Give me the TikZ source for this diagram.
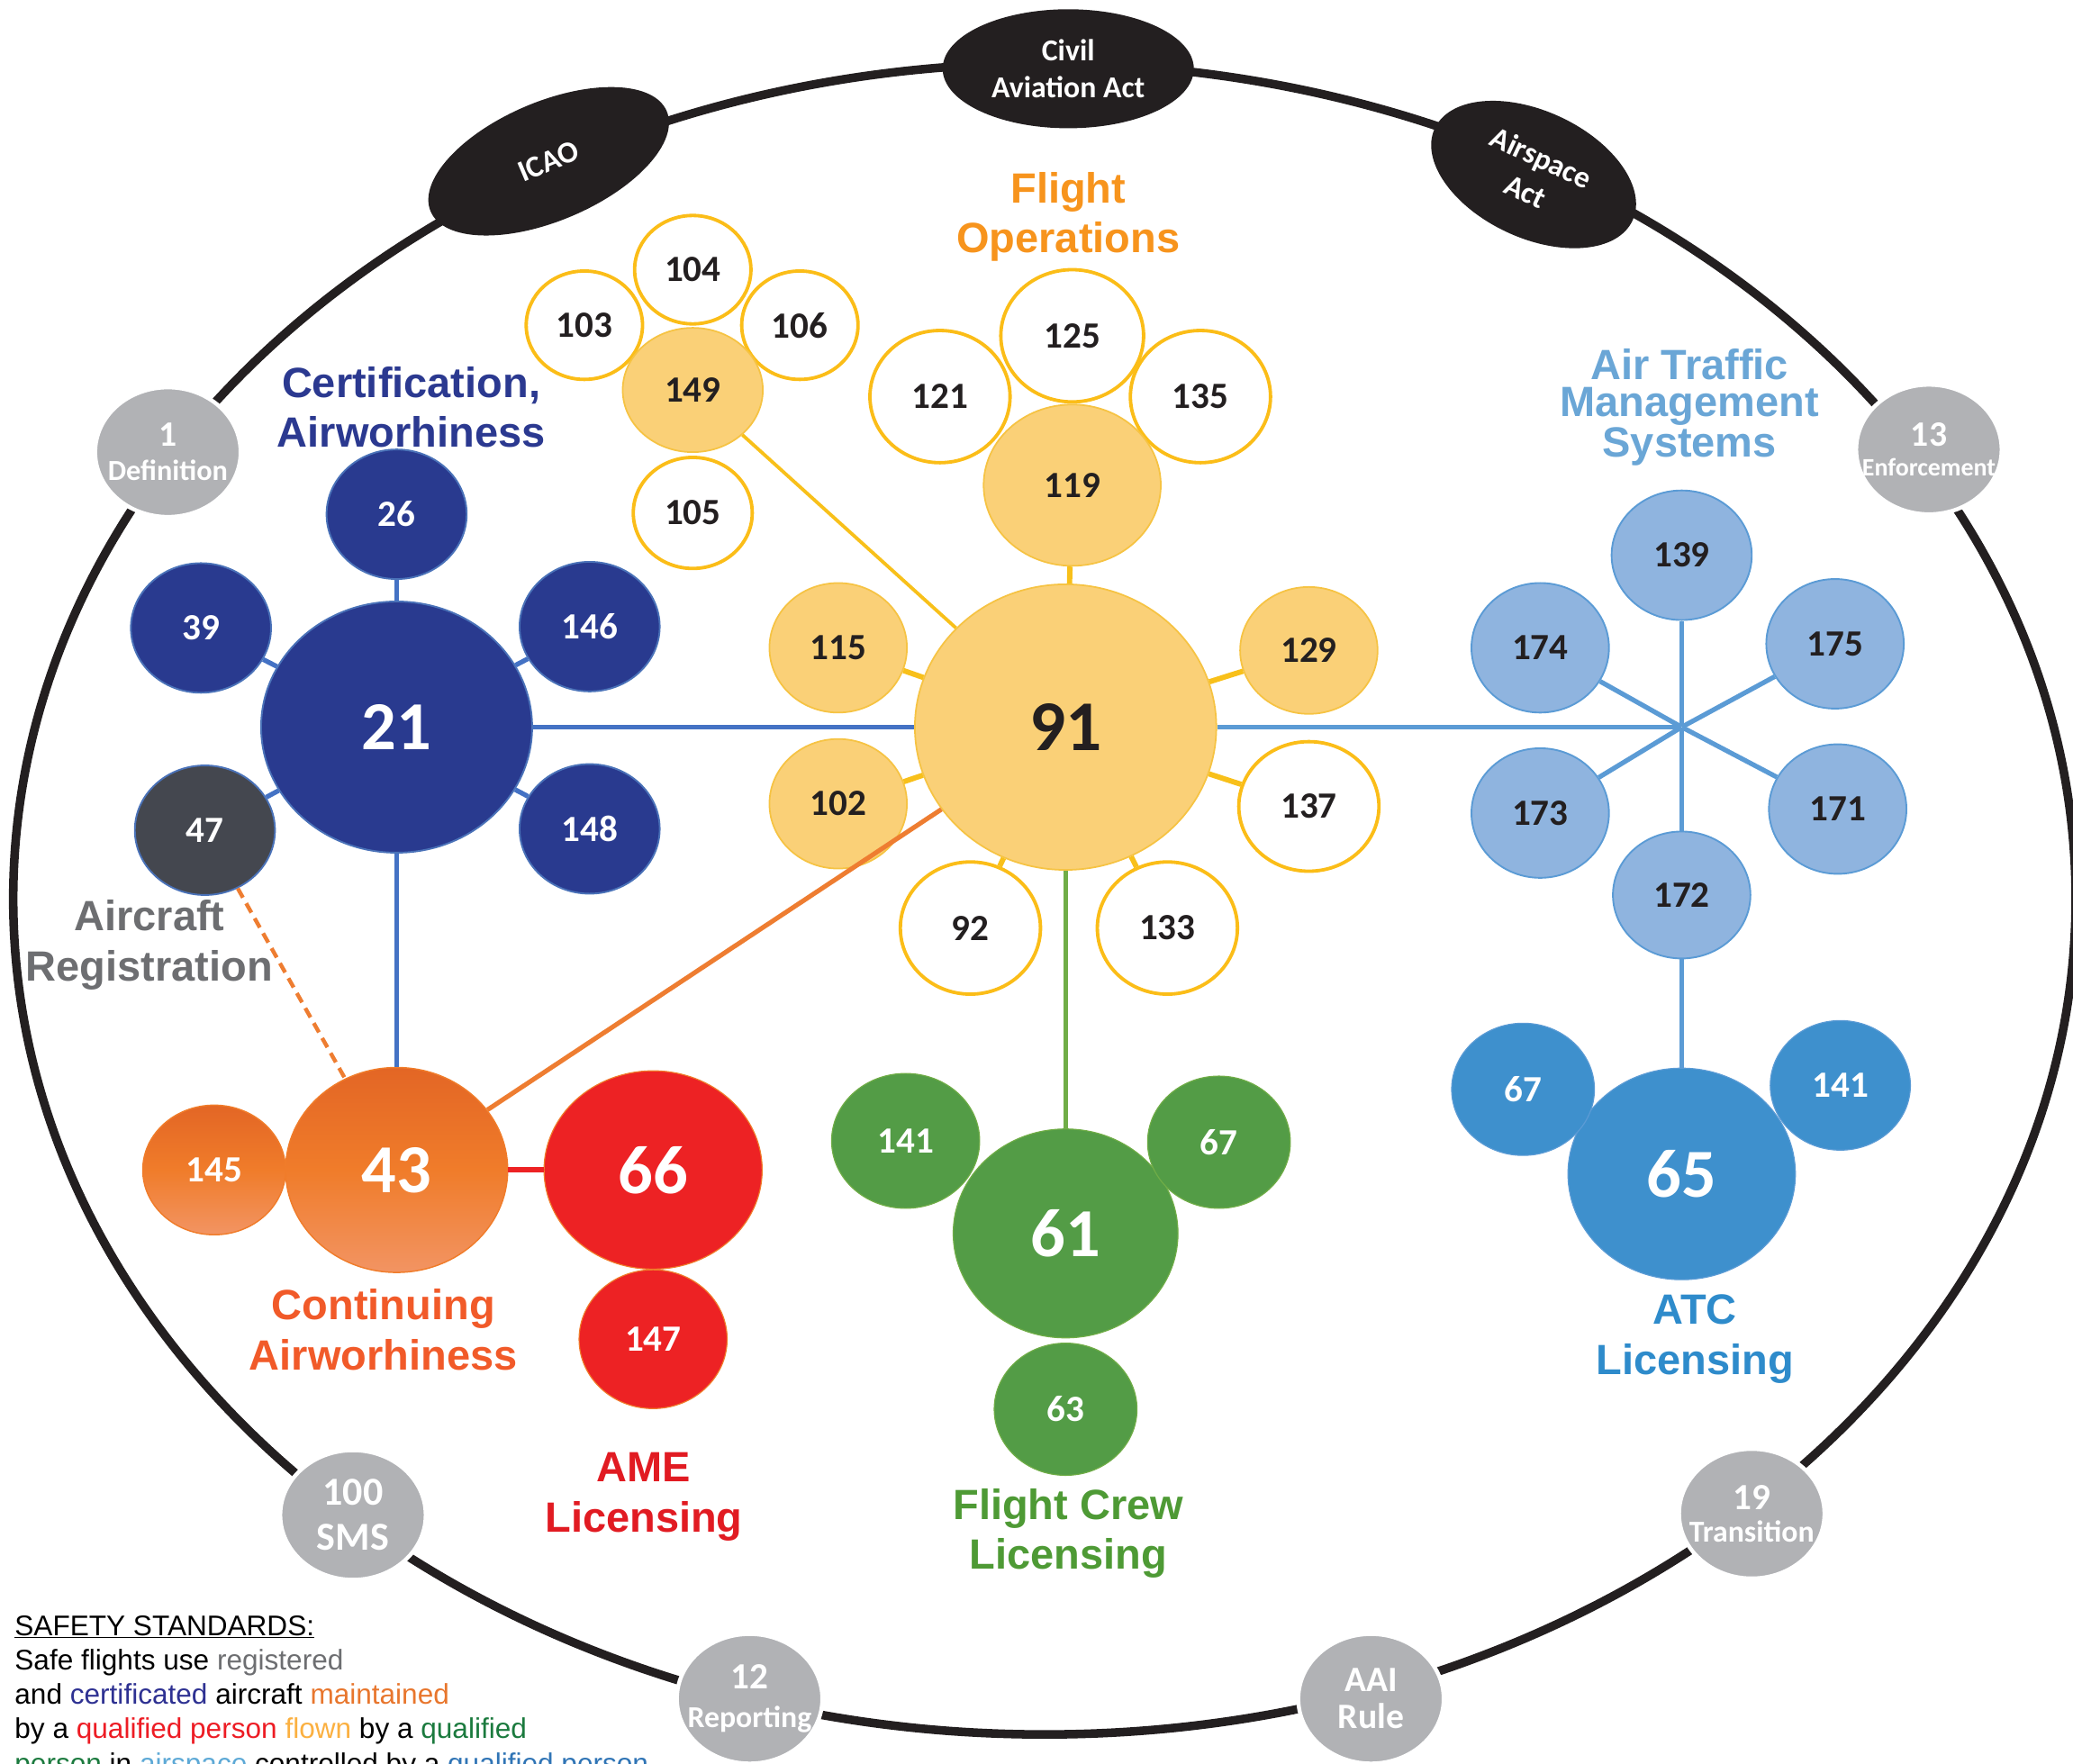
\documentclass[tikz,border=0pt]{standalone}
\usepackage{fontspec}
\setmainfont{Liberation Sans}
\newfontfamily\numfont{Carlito}
\usetikzlibrary{positioning, shapes.geometric}

\definecolor{ringblack}{HTML}{231F20}
\definecolor{navy}{HTML}{293A8F}
\definecolor{navyedge}{HTML}{4A72B8}
\definecolor{regrey}{HTML}{44474F}
\definecolor{linkblue}{HTML}{4472C4}
\definecolor{atmline}{HTML}{5B9BD5}
\definecolor{atmfill}{HTML}{8FB4DF}
\definecolor{atcfill}{HTML}{3E90CD}
\definecolor{yelfill}{HTML}{FAD077}
\definecolor{yeledge}{HTML}{F6C343}
\definecolor{yelring}{HTML}{FBBD18}
\definecolor{yelline}{HTML}{F8C01A}
\definecolor{orangetop}{HTML}{E36625}
\definecolor{orangemid}{HTML}{F07C2A}
\definecolor{orangebot}{HTML}{F29463}
\definecolor{orangeline}{HTML}{EE7D31}
\definecolor{redfill}{HTML}{ED2224}
\definecolor{greenfill}{HTML}{539C46}
\definecolor{greenline}{HTML}{70AD47}
\definecolor{partgrey}{HTML}{B1B2B5}
\definecolor{opsorange}{HTML}{F7941D}
\definecolor{certblue}{HTML}{2B3990}
\definecolor{atmtext}{HTML}{6AA6D6}
\definecolor{reggrey}{HTML}{6D6E71}
\definecolor{contorange}{HTML}{F15A29}
\definecolor{amered}{HTML}{E11B22}
\definecolor{crewgreen}{HTML}{4E9A35}
\definecolor{atctext}{HTML}{2E8BCB}
\definecolor{stdnavy}{HTML}{2E3192}
\definecolor{stdorange}{HTML}{E8762D}
\definecolor{stdred}{HTML}{ED1C24}
\definecolor{stdyellow}{HTML}{FBB040}
\definecolor{stdgreen}{HTML}{1B7A3E}
\definecolor{stdsky}{HTML}{5DA9D6}
\definecolor{stdblue}{HTML}{2F74B5}

\begin{document}
\begin{tikzpicture}[x=1pt, y=-1pt, on grid, inner sep=0pt,
		sz/.style 2 args={ellipse, minimum width=#1pt, minimum height=#2pt},
		numS/.style={font=\numfont\bfseries\fontsize{28}{30}\selectfont},
		numL/.style={font=\numfont\bfseries\fontsize{52}{56}\selectfont},
		navyn/.style={fill=navy, draw=navyedge, line width=1.3pt, text=white},
		yelf/.style={fill=yelfill, draw=yeledge, line width=1.2pt, text=ringblack, numS},
		yelw/.style={fill=white, draw=yelring, line width=2.6pt, text=ringblack, numS},
		orn/.style={top color=orangetop, bottom color=orangebot, middle color=orangemid, draw=orangemid, line width=1pt, text=white},
		redn/.style={fill=redfill, draw=orangemid, line width=0.8pt, text=white},
		grn/.style={fill=greenfill, draw=greenline, line width=0.8pt, text=white},
		atm/.style={fill=atmfill, draw=atmline, line width=1.3pt, text=ringblack, numS},
		atc/.style={fill=atcfill, draw=atmline, line width=0.8pt, text=white},
		part/.style={ellipse, fill=partgrey, draw=white, line width=3pt, text=white, align=center, inner xsep=-18pt, minimum width=110pt, minimum height=98pt, font=\numfont\bfseries\fontsize{22}{26}\selectfont},
		law/.style={ellipse, fill=ringblack, text=white, align=center, font=\numfont\bfseries\fontsize{23}{28}\selectfont},
		title/.style={align=center, font=\bfseries\fontsize{32}{38}\selectfont},
		navylink/.style={draw=linkblue, line width=3.6pt},
		yellink/.style={draw=yelline, line width=4pt},
		orangelink/.style={draw=orangeline, line width=3.5pt},
		redlink/.style={draw=redfill, line width=4pt},
		greenlink/.style={draw=greenline, line width=3pt},
		atmlink/.style={draw=atmline, line width=3.6pt}]
	\useasboundingbox (0,0) rectangle (1568,1334);

	% outer ring of acts and parts
	\draw[ringblack, line width=6.5pt] (790,680) ellipse [x radius=780pt, y radius=632pt];

	\node[law, sz={194}{90}, rotate=23]		(icao)	at (415,122)	{ICAO};
	\node[law, sz={190}{90}]				(caa)	at (808,52)		{Civil\\Aviation Act};
	\node[law, sz={165}{96}, rotate=-25]	(asa)	at (1160,132)	{Airspace\\Act};

	\node[part]		(p1)	at (127,342)	{{\fontsize{27}{27}\selectfont 1}\\Definition};
	\node[part, font=\numfont\bfseries\fontsize{19}{23}\selectfont]
					(p13)	at (1459,340)	{{\fontsize{27}{27}\selectfont 13}\\Enforcement};
	\node[part, font=\numfont\bfseries\fontsize{30}{34}\selectfont]
					(p100)	at (267,1146)	{100\\SMS};
	\node[part, font=\numfont\bfseries\fontsize{23}{25}\selectfont]
					(p19)	at (1325,1145)	{{\fontsize{28}{28}\selectfont 19}\\Transition};
	\node[part, font=\numfont\bfseries\fontsize{23}{29}\selectfont]
					(p12)	at (567,1285)	{{\fontsize{28}{28}\selectfont 12}\\Reporting};
	\node[part, font=\numfont\bfseries\fontsize{27}{28}\selectfont]
					(paai)	at (1037,1285)	{AAI\\Rule};

	% certification, airworthiness
	\node[navyn, numL, sz={205}{190}]	(n21)	at (300,550)							{21};
	\node[navyn, numS, sz={106}{98}]	(n26)	[above=161pt of n21]					{26};
	\node[navyn, numS, sz={106}{98}]	(n39)	[above left=75pt and 148pt of n21]		{39};
	\node[navyn, numS, sz={106}{98}]	(n146)	[above right=76pt and 146pt of n21]		{146};
	\node[navyn, numS, sz={106}{98}]	(n148)	[below right=77pt and 146pt of n21]		{148};
	\node[navyn, numS, sz={106}{98}, fill=regrey]
										(n47)	[below left=78pt and 145pt of n21]		{47};

	% continuing airworthiness, AME
	\node[orn, numL, sz={168}{155}]		(n43)	[below=335pt of n21]					{43};
	\node[orn, numS, sz={108}{98}]		(n145)	[left=138pt of n43]						{145};
	\node[redn, numL, sz={165}{150}]	(n66)	[right=194pt of n43]					{66};
	\node[redn, numS, sz={112}{105}]	(n147)	[below=128pt of n66]					{147};

	% flight operations
	\node[yelw, sz={108}{100}]			(n125)	at (811,254)							{125};
	\node[yelw, sz={106}{100}]			(n121)	[below left=46pt and 100pt of n125]		{121};
	\node[yelw, sz={106}{100}]			(n135)	[below right=46pt and 97pt of n125]		{135};
	\node[yelw, sz={88}{82}]			(n104)	at (524,204)							{104};
	\node[yelw, sz={88}{82}]			(n103)	[below left=42pt and 82pt of n104]		{103};
	\node[yelw, sz={88}{82}]			(n106)	[below right=42pt and 81pt of n104]		{106};
	\node[yelf, sz={106}{94}]			(n149)	[below=91pt of n104]					{149};
	\node[yelw, sz={90}{84}]			(n105)	[below=93pt of n149]					{105};
	\node[yelf, sz={134}{122}]			(n119)	[below=113pt of n125]					{119};
	\node[yelf, numL, sz={228}{216}, font=\numfont\bfseries\fontsize{54}{58}\selectfont]
										(n91)	[right=506pt of n21]					{91};
	\node[yelf, sz={104}{98}]			(n115)	[above left=60pt and 172pt of n91]		{115};
	\node[yelf, sz={104}{98}]			(n102)	[below left=58pt and 172pt of n91]		{102};
	\node[yelf, sz={104}{96}]			(n129)	[above right=58pt and 184pt of n91]		{129};
	\node[yelw, sz={106}{98}]			(n137)	[below right=60pt and 184pt of n91]		{137};
	\node[yelw, sz={106}{100}]			(n92)	[below left=152pt and 72pt of n91]		{92};
	\node[yelw, sz={106}{100}]			(n133)	[below right=152pt and 77pt of n91]		{133};

	% flight crew licensing
	\node[grn, numL, sz={170}{158}]		(n61)	[below=383pt of n91]					{61};
	\node[grn, numS, sz={112}{102}]		(g141)	[above left=70pt and 121pt of n61]		{141};
	\node[grn, numS, sz={108}{100}]		(g67)	[above right=69pt and 116pt of n61]		{67};
	\node[grn, numS, sz={108}{100}]		(n63)	[below=133pt of n61]					{63};

	% air traffic management, ATC licensing
	\node[circle, minimum size=0pt]		(hub)	[right=466pt of n91]					{};
	\node[atm, sz={106}{98}]			(n139)	[above=130pt of hub]					{139};
	\node[atm, sz={104}{98}]			(n174)	[above left=60pt and 107pt of hub]		{174};
	\node[atm, sz={104}{98}]			(n175)	[above right=63pt and 116pt of hub]		{175};
	\node[atm, sz={104}{98}]			(n173)	[below left=65pt and 107pt of hub]		{173};
	\node[atm, sz={104}{98}]			(n171)	[below right=62pt and 118pt of hub]		{171};
	\node[atm, sz={104}{96}]			(n172)	[below=127pt of hub]					{172};
	\node[atc, numL, sz={172}{160}]		(n65)	[below=338pt of hub]					{65};
	\node[atc, numS, sz={108}{100}]		(c67)	[above left=64pt and 120pt of n65]		{67};
	\node[atc, numS, sz={106}{98}]		(c141)	[above right=67pt and 120pt of n65]		{141};

	% titles
	\node[title, text=opsorange]	(tops)	at (808,164)	{Flight\\Operations};
	\node[title, text=certblue]		(tcert)	at (311,308)	{Certification,\\Airworhiness};
	\node[title, text=atmtext, font=\bfseries\fontsize{32}{28}\selectfont]
									(tatm)	at (1278,308)	{Air Traffic\\Management\\Systems};
	\node[title, text=reggrey]		(treg)	at (113,715)	{Aircraft\\Registration};
	\node[title, text=contorange]	(tcont)	at (290,1006)	{Continuing\\Airworhiness};
	\node[title, text=amered]		(tame)	at (487,1132)	{AME\\Licensing};
	\node[title, text=crewgreen]	(tcrew)	at (808,1160)	{Flight Crew\\Licensing};
	\node[title, text=atctext]		(tatc)	at (1282,1013)	{ATC\\Licensing};

	\node[anchor=north west, align=left, font=\fontsize{21.5}{26}\selectfont] (std) at (11,1222)
		{\underline{SAFETY STANDARDS:}\\
		Safe flights use \textcolor{reggrey}{registered}\\
		and \textcolor{stdnavy}{certificated} aircraft \textcolor{stdorange}{maintained}\\
		by a \textcolor{stdred}{qualified person} \textcolor{stdyellow}{flown} by a \textcolor{stdgreen}{qualified}\\
		\textcolor{stdgreen}{person} in \textcolor{stdsky}{airspace} controlled by a \textcolor{stdblue}{qualified person}};

	\path[navylink]
		(n21)	edge	(n26)
		(n21)	edge	(n39)
		(n21)	edge	(n146)
		(n21)	edge	(n148)
		(n21)	edge	(n47)
		(n21)	edge	(n91)
		(n21)	edge	(n43);
	\path[orangelink]
		(n43)	edge	(n91)
		(n47)	edge[dash pattern=on 8pt off 5pt, line width=3pt]	(n43);
	\path[redlink]
		(n43)	edge	(n66);
	\path[yellink]
		(n91)	edge	(n119)
		(n91)	edge[line width=2.6pt]	(n149)
		(n91)	edge	(n115)
		(n91)	edge	(n102)
		(n91)	edge	(n129)
		(n91)	edge	(n137)
		(n91)	edge	(n92)
		(n91)	edge	(n133);
	\path[greenlink]
		(n91)	edge	(n61);
	\path[atmlink]
		(n91)	edge	(hub)
		(hub)	edge	(n139)
		(hub)	edge	(n174)
		(hub)	edge	(n175)
		(hub)	edge	(n173)
		(hub)	edge	(n171)
		(hub)	edge	(n172)
		(n172)	edge	(n65);
\end{tikzpicture}
\end{document}
